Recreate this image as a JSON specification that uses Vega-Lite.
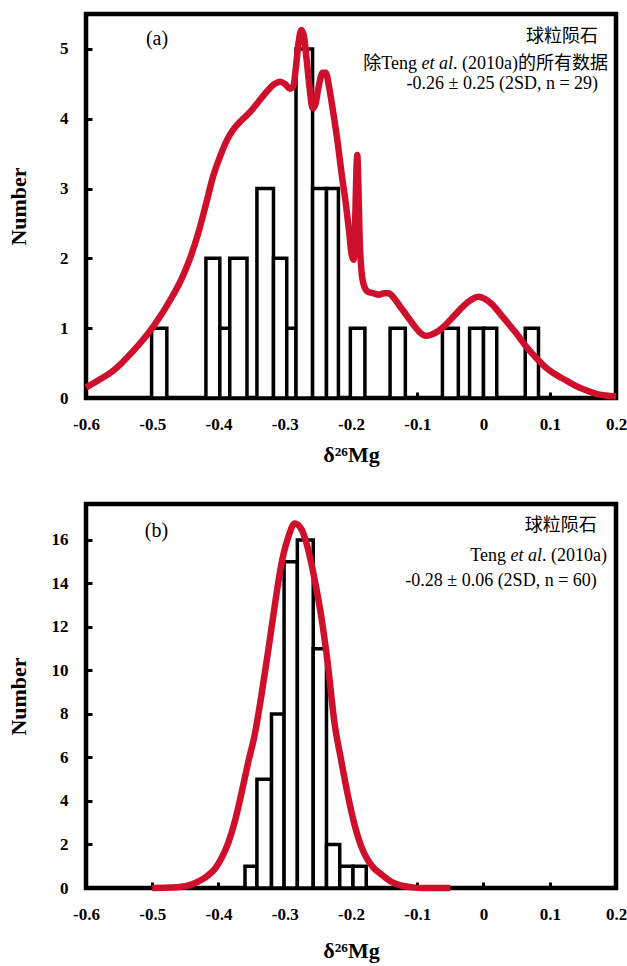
{
  "$schema": "https://vega.github.io/schema/vega-lite/v6.json",
  "autosize": {"type": "pad"},
  "padding": {"left": 4, "top": 11, "right": 2, "bottom": 0},
  "background": "white",
  "datasets": {
    "barsA": [
      {"x0": -0.501, "x1": -0.478, "n": 1},
      {"x0": -0.419, "x1": -0.398, "n": 2},
      {"x0": -0.398, "x1": -0.383, "n": 1},
      {"x0": -0.383, "x1": -0.357, "n": 2},
      {"x0": -0.342, "x1": -0.317, "n": 3},
      {"x0": -0.317, "x1": -0.297, "n": 2},
      {"x0": -0.297, "x1": -0.283, "n": 1},
      {"x0": -0.283, "x1": -0.258, "n": 5},
      {"x0": -0.258, "x1": -0.237, "n": 3},
      {"x0": -0.237, "x1": -0.219, "n": 3},
      {"x0": -0.201, "x1": -0.179, "n": 1},
      {"x0": -0.141, "x1": -0.118, "n": 1},
      {"x0": -0.062, "x1": -0.038, "n": 1},
      {"x0": -0.021, "x1": 0.0, "n": 1},
      {"x0": 0.0, "x1": 0.02, "n": 1},
      {"x0": 0.063, "x1": 0.083, "n": 1}
    ],
    "curveA": [
      {"x": -0.600, "y": 0.15}, {"x": -0.580, "y": 0.26}, {"x": -0.559, "y": 0.39},
      {"x": -0.530, "y": 0.66}, {"x": -0.498, "y": 1.03}, {"x": -0.470, "y": 1.45},
      {"x": -0.455, "y": 1.72}, {"x": -0.443, "y": 2.0}, {"x": -0.430, "y": 2.38},
      {"x": -0.418, "y": 2.81}, {"x": -0.408, "y": 3.18}, {"x": -0.398, "y": 3.45},
      {"x": -0.388, "y": 3.68}, {"x": -0.378, "y": 3.84}, {"x": -0.365, "y": 3.98},
      {"x": -0.352, "y": 4.1}, {"x": -0.340, "y": 4.24}, {"x": -0.327, "y": 4.39},
      {"x": -0.315, "y": 4.5}, {"x": -0.307, "y": 4.53}, {"x": -0.300, "y": 4.5},
      {"x": -0.292, "y": 4.43}, {"x": -0.287, "y": 4.47}, {"x": -0.283, "y": 4.75},
      {"x": -0.279, "y": 5.1}, {"x": -0.275, "y": 5.27}, {"x": -0.271, "y": 5.18},
      {"x": -0.267, "y": 4.85}, {"x": -0.262, "y": 4.4}, {"x": -0.258, "y": 4.15},
      {"x": -0.254, "y": 4.2}, {"x": -0.249, "y": 4.45}, {"x": -0.243, "y": 4.66},
      {"x": -0.238, "y": 4.66}, {"x": -0.233, "y": 4.45}, {"x": -0.227, "y": 4.1},
      {"x": -0.220, "y": 3.65}, {"x": -0.214, "y": 3.2}, {"x": -0.208, "y": 2.8},
      {"x": -0.203, "y": 2.4}, {"x": -0.199, "y": 2.05}, {"x": -0.196, "y": 1.98},
      {"x": -0.194, "y": 2.4}, {"x": -0.192, "y": 3.2}, {"x": -0.1905, "y": 3.48},
      {"x": -0.189, "y": 3.1}, {"x": -0.187, "y": 2.3}, {"x": -0.184, "y": 1.8},
      {"x": -0.180, "y": 1.6}, {"x": -0.174, "y": 1.52}, {"x": -0.166, "y": 1.5},
      {"x": -0.158, "y": 1.48}, {"x": -0.150, "y": 1.5}, {"x": -0.143, "y": 1.5},
      {"x": -0.135, "y": 1.43}, {"x": -0.125, "y": 1.3}, {"x": -0.115, "y": 1.17},
      {"x": -0.105, "y": 1.04}, {"x": -0.095, "y": 0.93}, {"x": -0.088, "y": 0.89},
      {"x": -0.078, "y": 0.91}, {"x": -0.068, "y": 0.96}, {"x": -0.058, "y": 1.04},
      {"x": -0.045, "y": 1.17}, {"x": -0.030, "y": 1.32}, {"x": -0.018, "y": 1.41},
      {"x": -0.008, "y": 1.45}, {"x": 0.002, "y": 1.42}, {"x": 0.012, "y": 1.35},
      {"x": 0.025, "y": 1.21}, {"x": 0.038, "y": 1.06}, {"x": 0.050, "y": 0.92},
      {"x": 0.065, "y": 0.73}, {"x": 0.080, "y": 0.57}, {"x": 0.095, "y": 0.43},
      {"x": 0.110, "y": 0.33}, {"x": 0.125, "y": 0.25}, {"x": 0.140, "y": 0.17},
      {"x": 0.155, "y": 0.11}, {"x": 0.170, "y": 0.06}, {"x": 0.185, "y": 0.035},
      {"x": 0.200, "y": 0.02}
    ],
    "notesA": [
      {"x": -0.476, "y": 5.14, "t": "(a)", "kind": "tag"},
      {"x": 0.173, "y": 5.17, "t": "球粒陨石", "kind": "plain"},
      {"x": -0.1004, "y": 4.79, "t": "除Teng", "kind": "plain"},
      {"x": -0.046, "y": 4.79, "t": "et al", "kind": "italic"},
      {"x": 0.188, "y": 4.79, "t": ". (2010a)的所有数据", "kind": "plain"},
      {"x": 0.173, "y": 4.5, "t": "-0.26 ± 0.25 (2SD, n = 29)", "kind": "plain"}
    ],
    "barsB": [
      {"x0": -0.360, "x1": -0.342, "n": 1},
      {"x0": -0.342, "x1": -0.320, "n": 5},
      {"x0": -0.320, "x1": -0.301, "n": 8},
      {"x0": -0.301, "x1": -0.281, "n": 15},
      {"x0": -0.281, "x1": -0.257, "n": 16},
      {"x0": -0.257, "x1": -0.237, "n": 11},
      {"x0": -0.237, "x1": -0.217, "n": 2},
      {"x0": -0.217, "x1": -0.197, "n": 1},
      {"x0": -0.197, "x1": -0.177, "n": 1}
    ],
    "curveB": [
      {"x": -0.500, "y": 0.0}, {"x": -0.475, "y": 0.02}, {"x": -0.450, "y": 0.08},
      {"x": -0.430, "y": 0.3}, {"x": -0.415, "y": 0.6}, {"x": -0.405, "y": 0.9},
      {"x": -0.395, "y": 1.4}, {"x": -0.385, "y": 2.1}, {"x": -0.375, "y": 3.1},
      {"x": -0.365, "y": 4.4}, {"x": -0.355, "y": 5.8}, {"x": -0.345, "y": 7.1},
      {"x": -0.335, "y": 8.9}, {"x": -0.325, "y": 10.9}, {"x": -0.315, "y": 13.0},
      {"x": -0.305, "y": 14.9}, {"x": -0.295, "y": 16.1}, {"x": -0.285, "y": 16.75},
      {"x": -0.275, "y": 16.5}, {"x": -0.265, "y": 15.6}, {"x": -0.255, "y": 14.2},
      {"x": -0.245, "y": 12.5}, {"x": -0.235, "y": 10.3}, {"x": -0.225, "y": 7.6},
      {"x": -0.215, "y": 5.9}, {"x": -0.205, "y": 4.3}, {"x": -0.195, "y": 2.95},
      {"x": -0.185, "y": 1.95}, {"x": -0.175, "y": 1.3}, {"x": -0.165, "y": 0.9},
      {"x": -0.155, "y": 0.65}, {"x": -0.140, "y": 0.3}, {"x": -0.125, "y": 0.12},
      {"x": -0.110, "y": 0.04}, {"x": -0.090, "y": 0.0}, {"x": -0.050, "y": 0.0}
    ],
    "notesB": [
      {"x": -0.476, "y": 16.42, "t": "(b)", "kind": "tag"},
      {"x": 0.171, "y": 16.65, "t": "球粒陨石", "kind": "plain"},
      {"x": 0.034, "y": 15.28, "t": "Teng", "kind": "plain"},
      {"x": 0.0883, "y": 15.28, "t": "et al", "kind": "italic"},
      {"x": 0.1864, "y": 15.28, "t": ". (2010a)", "kind": "plain"},
      {"x": 0.171, "y": 14.13, "t": "-0.28 ± 0.06 (2SD, n = 60)", "kind": "plain"}
    ]
  },
  "vconcat": [
    {
      "width": 530,
      "height": 384,
      "encoding": {
        "x": {"type": "quantitative",
              "scale": {"domain": [-0.6, 0.2], "nice": false, "zero": false},
              "title": "δ²⁶Mg",
              "axis": {"values": [-0.6, -0.5, -0.4, -0.3, -0.2, -0.1, 0, 0.1, 0.2],
                       "labelExpr": "replace(format(datum.value, '.1~f'), '\u2212', '-')",
                       "titleY": 56, "titleBaseline": "middle"}},
        "y": {"type": "quantitative",
              "scale": {"domain": [0, 5.5], "nice": false},
              "title": "Number",
              "axis": {"values": [0, 1, 2, 3, 4, 5],
                       "titleX": -68, "titleY": 192, "titleAngle": 270,
                       "titleAlign": "center", "titleBaseline": "middle"}}
      },
      "layer": [
        {
          "data": {"name": "barsA"},
          "mark": {"type": "rect", "fill": "white", "stroke": "black", "strokeWidth": 3.5},
          "encoding": {
            "x": {"field": "x0"},
            "x2": {"field": "x1"},
            "y": {"field": "n"},
            "y2": {"datum": 0}
          }
        },
        {
          "data": {"name": "curveA"},
          "mark": {"type": "line", "color": "#cf102d", "strokeWidth": 6.5, "interpolate": "monotone", "strokeCap": "butt"},
          "encoding": {
            "x": {"field": "x"},
            "y": {"field": "y"}
          }
        },
        {
          "data": {"name": "notesA"},
          "transform": [{"filter": "datum.kind == 'plain'"}],
          "mark": {"type": "text", "align": "right", "baseline": "middle", "fontSize": 18, "font": "Liberation Serif, Noto Sans CJK SC", "color": "black"},
          "encoding": {
            "x": {"field": "x"},
            "y": {"field": "y"},
            "text": {"field": "t"}
          }
        },
        {
          "data": {"name": "notesA"},
          "transform": [{"filter": "datum.kind == 'italic'"}],
          "mark": {"type": "text", "align": "right", "baseline": "middle", "fontSize": 18, "fontStyle": "italic", "font": "Liberation Serif", "color": "black"},
          "encoding": {
            "x": {"field": "x"},
            "y": {"field": "y"},
            "text": {"field": "t"}
          }
        },
        {
          "data": {"name": "notesA"},
          "transform": [{"filter": "datum.kind == 'tag'"}],
          "mark": {"type": "text", "align": "right", "baseline": "middle", "fontSize": 20, "font": "Liberation Serif", "color": "black"},
          "encoding": {
            "x": {"field": "x"},
            "y": {"field": "y"},
            "text": {"field": "t"}
          }
        }
      ]
    },
    {
      "width": 530,
      "height": 384,
      "encoding": {
        "x": {"type": "quantitative",
              "scale": {"domain": [-0.6, 0.2], "nice": false, "zero": false},
              "title": "δ²⁶Mg",
              "axis": {"values": [-0.6, -0.5, -0.4, -0.3, -0.2, -0.1, 0, 0.1, 0.2],
                       "labelExpr": "replace(format(datum.value, '.1~f'), '\u2212', '-')",
                       "titleY": 62, "titleBaseline": "middle"}},
        "y": {"type": "quantitative",
              "scale": {"domain": [0, 17.65], "nice": false},
              "title": "Number",
              "axis": {"values": [0, 2, 4, 6, 8, 10, 12, 14, 16],
                       "titleX": -68, "titleY": 192, "titleAngle": 270,
                       "titleAlign": "center", "titleBaseline": "middle"}}
      },
      "layer": [
        {
          "data": {"name": "barsB"},
          "mark": {"type": "rect", "fill": "white", "stroke": "black", "strokeWidth": 3.5},
          "encoding": {
            "x": {"field": "x0"},
            "x2": {"field": "x1"},
            "y": {"field": "n"},
            "y2": {"datum": 0}
          }
        },
        {
          "data": {"name": "curveB"},
          "mark": {"type": "line", "color": "#cf102d", "strokeWidth": 6.5, "interpolate": "monotone", "strokeCap": "butt"},
          "encoding": {
            "x": {"field": "x"},
            "y": {"field": "y"}
          }
        },
        {
          "data": {"name": "notesB"},
          "transform": [{"filter": "datum.kind == 'plain'"}],
          "mark": {"type": "text", "align": "right", "baseline": "middle", "fontSize": 18, "font": "Liberation Serif, Noto Sans CJK SC", "color": "black"},
          "encoding": {
            "x": {"field": "x"},
            "y": {"field": "y"},
            "text": {"field": "t"}
          }
        },
        {
          "data": {"name": "notesB"},
          "transform": [{"filter": "datum.kind == 'italic'"}],
          "mark": {"type": "text", "align": "right", "baseline": "middle", "fontSize": 18, "fontStyle": "italic", "font": "Liberation Serif", "color": "black"},
          "encoding": {
            "x": {"field": "x"},
            "y": {"field": "y"},
            "text": {"field": "t"}
          }
        },
        {
          "data": {"name": "notesB"},
          "transform": [{"filter": "datum.kind == 'tag'"}],
          "mark": {"type": "text", "align": "right", "baseline": "middle", "fontSize": 20, "font": "Liberation Serif", "color": "black"},
          "encoding": {
            "x": {"field": "x"},
            "y": {"field": "y"},
            "text": {"field": "t"}
          }
        }
      ]
    }
  ],
  "spacing": 106,
  "bounds": "flush",
  "config": {
    "font": "Liberation Serif",
    "view": {"stroke": "black", "strokeWidth": 4.5},
    "axis": {
      "grid": false,
      "domain": false,
      "ticks": true,
      "tickSize": -6,
      "tickWidth": 3,
      "tickColor": "black",
      "labelFont": "Liberation Serif",
      "labelFontWeight": "bold",
      "labelFontSize": 17,
      "labelColor": "black",
      "labelPadding": 24,
      "labelFlush": false,
      "labelOverlap": false,
      "titleFont": "Liberation Serif",
      "titleFontWeight": "bold",
      "titleFontSize": 22,
      "titleColor": "black"
    }
  }
}
